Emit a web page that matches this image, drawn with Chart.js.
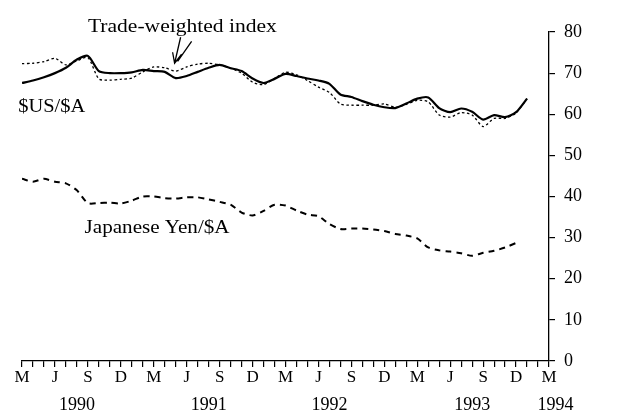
<!DOCTYPE html>
<html>
<head>
<meta charset="utf-8">
<script src="https://cdn.jsdelivr.net/npm/chart.js@4/dist/chart.umd.min.js"></script>
<style>
  html, body { margin: 0; padding: 0; background: #fff; }
  #wrap { width: 627px; height: 415px; }
</style>
</head>
<body>
<div id="wrap"><canvas id="fxChart" width="627" height="415"></canvas></div>
<script>
// Months since March 1990 (0 = Mar 1990, 48 = Mar 1994)
const quarterTicks = ['M','J','S','D','M','J','S','D','M','J','S','D','M','J','S','D','M'];
const yearLabels = ['1990', '1991', '1992', '1993', '1994'];
const yearPos = [5, 17, 28, 41, 48.6];

// $US/$A, monthly, Mar 1990 - Jan 1994
const usdAud = [
  67.6, 68.2, 69.0, 70.0, 71.3, 73.3, 74.2, 70.5, 70.0, 70.0, 70.2, 70.8,
  70.5, 70.3, 68.8, 69.3, 70.3, 71.3, 72.0, 71.2, 70.5, 68.7, 67.6, 68.6,
  69.8, 69.3, 68.7, 68.2, 67.4, 64.8, 64.2, 63.2, 62.3, 61.7, 61.5, 62.6,
  63.8, 64.1, 61.5, 60.5, 61.4, 60.6, 58.7, 59.8, 59.3, 60.5, 63.8
];

// Trade-weighted index
const twi = [
  72.3, 72.4, 72.8, 73.6, 72.0, 73.0, 73.8, 68.6, 68.3, 68.5, 68.8, 70.3,
  71.5, 71.3, 70.5, 71.5, 72.2, 72.4, 72.0, 71.2, 70.0, 67.8, 67.2, 68.7,
  70.2, 69.6, 68.2, 66.6, 65.3, 62.5, 62.2, 62.2, 62.2, 62.5, 61.7, 62.4,
  63.4, 63.0, 59.8, 59.3, 60.4, 59.8, 57.0, 59.0, 59.0, 60.3, 63.8
];

// Japanese Yen/$A, Mar 1990 - Dec 1993
const yenAud = [
  44.3, 43.6, 44.3, 43.6, 43.2, 41.5, 38.4, 38.4, 38.5, 38.3, 39.0, 40.0,
  40.0, 39.6, 39.5, 39.8, 39.8, 39.3, 38.7, 38.0, 36.1, 35.4, 36.5, 38.0,
  37.8, 36.6, 35.6, 35.2, 33.3, 32.1, 32.2, 32.2, 32.0, 31.6, 30.9, 30.5,
  29.8, 27.6, 26.9, 26.6, 26.2, 25.6, 26.3, 26.8, 27.6, 28.7
];

// Text annotations (data units: x = month index, y = value)
const notes = [
  { text: '$US/$A', x: -0.35, y: 61.8, width: 67 },
  { text: 'Trade-weighted index', x: 6.0, y: 81.3, width: 189 },
  { text: 'Japanese Yen/$A', x: 5.7, y: 32.4, width: 145 }
];
const arrowTip = { x: 13.9, y: 72.4 };

function toPoints(arr) {
  return arr.map((v, i) => ({ x: i, y: v }));
}

const SERIF = '"Liberation Serif", "Times New Roman", serif';

function drawFitted(ctx, text, x, y, width) {
  const w = ctx.measureText(text).width;
  ctx.save();
  ctx.translate(x, y);
  ctx.scale(width / w, 1);
  ctx.fillText(text, 0, 0);
  ctx.restore();
}

const annotations = {
  id: 'annotations',
  afterDraw(chart) {
    const ctx = chart.ctx;
    const xs = chart.scales.x;
    const ys = chart.scales.y;
    ctx.save();
    ctx.fillStyle = '#000';
    ctx.textBaseline = 'middle';
    ctx.textAlign = 'left';
    ctx.font = '19px ' + SERIF;
    notes.forEach(n => {
      drawFitted(ctx, n.text, xs.getPixelForValue(n.x), ys.getPixelForValue(n.y), n.width);
    });

    // arrow from label down to the trade-weighted line
    const tx = xs.getPixelForValue(arrowTip.x);
    const ty = ys.getPixelForValue(arrowTip.y);
    ctx.strokeStyle = '#000';
    ctx.lineWidth = 1.3;
    ctx.beginPath();
    ctx.moveTo(tx + 6, ty - 26);
    ctx.lineTo(tx, ty);
    ctx.moveTo(tx + 17, ty - 22);
    ctx.lineTo(tx + 3, ty - 2);
    ctx.moveTo(tx - 2, ty - 11);
    ctx.lineTo(tx, ty);
    ctx.lineTo(tx + 7, ty - 9);
    ctx.stroke();

    // year labels under the month letters
    ctx.textAlign = 'center';
    ctx.font = '18px ' + SERIF;
    yearLabels.forEach((y, i) => {
      ctx.fillText(y, xs.getPixelForValue(yearPos[i]), xs.top + 44);
    });
    ctx.restore();
  }
};

new Chart(document.getElementById('fxChart').getContext('2d'), {
  type: 'line',
  data: {
    datasets: [
      {
        label: 'Japanese Yen/$A',
        data: toPoints(yenAud),
        borderColor: '#000',
        borderWidth: 2,
        borderDash: [6, 5],
        pointRadius: 0,
        tension: 0.25
      },
      {
        label: 'Trade-weighted index',
        data: toPoints(twi),
        borderColor: '#000',
        borderWidth: 1.3,
        borderDash: [2.5, 2.5],
        pointRadius: 0,
        tension: 0.25
      },
      {
        label: '$US/$A',
        data: toPoints(usdAud),
        borderColor: '#000',
        borderWidth: 2.2,
        pointRadius: 0,
        tension: 0.25
      }
    ]
  },
  options: {
    responsive: false,
    animation: false,
    layout: { padding: { left: 22, top: 32, right: 0, bottom: 0 } },
    plugins: {
      legend: { display: false },
      tooltip: { enabled: false }
    },
    scales: {
      x: {
        type: 'linear',
        min: 0,
        max: 48,
        afterFit(scale) { scale.height = 54; },
        border: { display: true, color: '#000', width: 1.3 },
        grid: { drawOnChartArea: false, drawTicks: true, tickLength: 6, color: '#000', lineWidth: 1.2 },
        ticks: {
          stepSize: 1,
          autoSkip: false,
          maxRotation: 0,
          padding: 0,
          color: '#000',
          font: { family: SERIF, size: 17 },
          callback: v => (v % 3 === 0 ? quarterTicks[v / 3] : '')
        }
      },
      y: {
        position: 'right',
        min: 0,
        max: 80,
        afterFit(scale) { scale.width = 78; },
        border: { display: true, color: '#000', width: 1.3 },
        grid: { drawOnChartArea: false, drawTicks: true, tickLength: 6, color: '#000', lineWidth: 1.2 },
        ticks: {
          stepSize: 10,
          padding: 9,
          color: '#000',
          font: { family: SERIF, size: 18 }
        }
      }
    }
  },
  plugins: [annotations]
});
</script>
</body>
</html>
